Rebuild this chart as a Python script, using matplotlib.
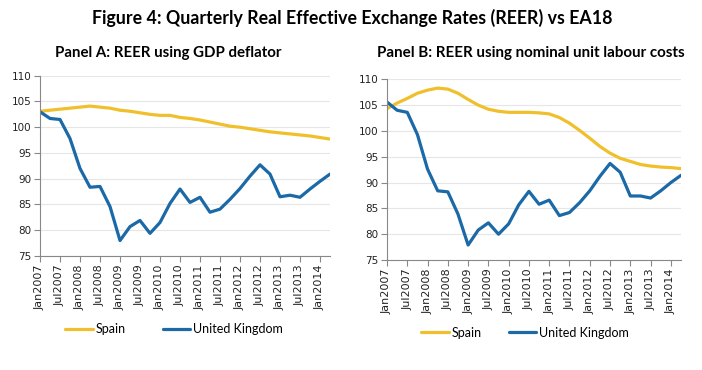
import matplotlib
matplotlib.use("Agg")
import matplotlib.pyplot as plt

# quarterly observations, Q1 2007 .. Q2 2014
quarters = list(range(30))
tick_labels = ["Jan2007", "Jul2007", "Jan2008", "Jul2008", "Jan2009", "Jul2009",
               "Jan2010", "Jul2010", "Jan2011", "Jul2011", "Jan2012", "Jul2012",
               "Jan2013", "Jul2013", "Jan2014"]

# Panel A: REER using GDP deflator
spain_gdp = [103.1, 103.3, 103.5, 103.7, 103.9, 104.1, 103.9, 103.7, 103.3, 103.1,
             102.8, 102.5, 102.3, 102.3, 101.9, 101.7, 101.4, 101.0, 100.6, 100.2,
             100.0, 99.7, 99.4, 99.1, 98.9, 98.7, 98.5, 98.3, 98.0, 97.7]
uk_gdp = [103.0, 101.7, 101.5, 97.8, 92.0, 88.35, 88.5, 84.6, 78.0, 80.7,
          81.9, 79.4, 81.5, 85.2, 88.0, 85.4, 86.4, 83.5, 84.1, 86.0,
          88.1, 90.5, 92.7, 90.9, 86.5, 86.8, 86.4, 88.0, 89.5, 90.9]

# Panel B: REER using nominal unit labour costs
spain_ulc = [104.3, 105.4, 106.3, 107.3, 107.9, 108.3, 108.1, 107.3, 106.1, 105.0,
             104.2, 103.8, 103.6, 103.6, 103.6, 103.5, 103.3, 102.6, 101.5, 100.1,
             98.6, 97.0, 95.7, 94.7, 94.1, 93.5, 93.2, 93.0, 92.9, 92.7]
uk_ulc = [105.6, 104.0, 103.6, 99.3, 92.6, 88.4, 88.2, 83.9, 77.9, 80.8,
          82.2, 80.0, 82.0, 85.7, 88.3, 85.8, 86.6, 83.6, 84.2, 86.1,
          88.4, 91.2, 93.7, 92.0, 87.4, 87.4, 87.0, 88.4, 90.0, 91.4]

SPAIN_COL = "#F0C02C"
UK_COL = "#1B69A6"

fig = plt.figure(figsize=(7.02, 3.70), dpi=100)

fig.text(0.502, 0.952, "Figure 4: Quarterly Real Effective Exchange Rates (REER) vs EA18",
         ha="center", va="center", fontsize=12.8, fontweight="bold", family="Lato")
fig.text(0.239, 0.858, "Panel A: REER using GDP deflator",
         ha="center", va="center", fontsize=10.8, fontweight="bold", family="Lato")
fig.text(0.756, 0.858, "Panel B: REER using nominal unit labour costs",
         ha="center", va="center", fontsize=10.9, fontweight="bold", family="Lato")

panels = [
    ([40 / 702, 1 - 256 / 370, 290 / 702, 180.3 / 370], spain_gdp, uk_gdp, (0.248, 0.111), 3.0),
    ([387 / 702, 1 - 260 / 370, 294 / 702, 180.7 / 370], spain_ulc, uk_ulc, (0.748, 0.101), 2.2),
]

for rect, spain, uk, leg_pos, colspace in panels:
    ax = fig.add_axes(rect)
    ax.plot(quarters, spain, color=SPAIN_COL, lw=2.3, label="Spain", solid_capstyle="round")
    ax.plot(quarters, uk, color=UK_COL, lw=2.3, label="United Kingdom", solid_capstyle="round")

    ax.set_xlim(0, 29)
    ax.set_ylim(75, 110)
    ax.set_yticks(range(75, 111, 5))
    ax.set_xticks(quarters[::2])
    ax.set_xticklabels(tick_labels, rotation=90, fontsize=8, color="#222222")
    ax.tick_params(axis="y", labelsize=7.5, labelcolor="#222222", length=4,
                   color="#888888", width=0.8, pad=2)
    ax.tick_params(axis="x", length=4, color="#888888", width=0.8, pad=2)

    ax.grid(axis="y", color="#E6E6E6", lw=0.8)
    ax.set_axisbelow(True)
    for side in ("top", "right"):
        ax.spines[side].set_visible(False)
    for side in ("left", "bottom"):
        ax.spines[side].set_color("#888888")
        ax.spines[side].set_linewidth(0.8)

    ax.legend(loc="center", bbox_to_anchor=leg_pos, bbox_transform=fig.transFigure,
              ncol=2, frameon=False, handlelength=2.2, handletextpad=0.2,
              columnspacing=colspace, prop={"family": "Lato", "size": 9})

fig.savefig("out.png", dpi=100)
